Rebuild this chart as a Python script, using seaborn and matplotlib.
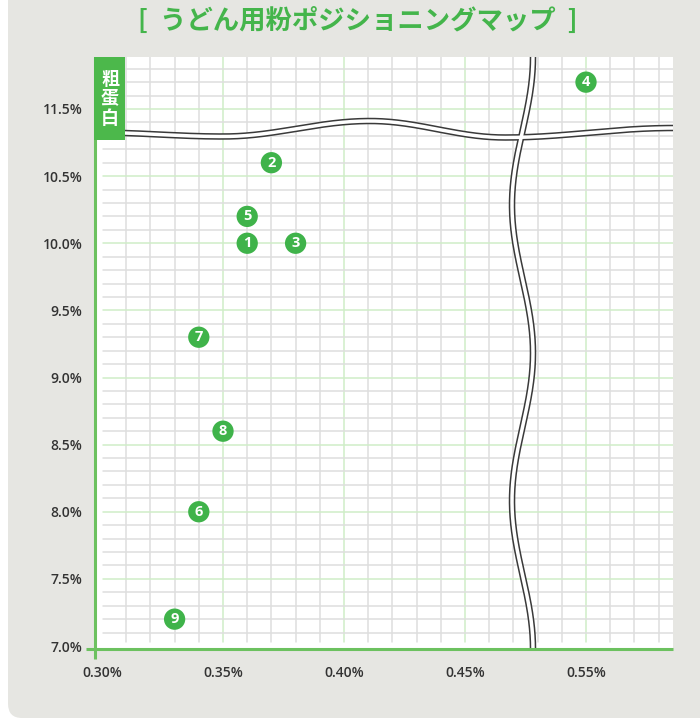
import numpy as np
import pandas as pd
import matplotlib
matplotlib.use("Agg")
import matplotlib.pyplot as plt
import seaborn as sns
from matplotlib.patches import FancyBboxPatch, Rectangle

# ---------------- data ----------------
labels = ["1", "2", "3", "4", "5", "6", "7", "8", "9"]
ash = [0.36, 0.37, 0.38, 0.55, 0.36, 0.34, 0.34, 0.35, 0.33]          # x, %
protein = [10.0, 10.6, 10.0, 11.7, 10.2, 8.0, 9.3, 8.6, 7.2]          # y, %
x_tick_values = [0.30, 0.35, 0.40, 0.45, 0.55]
x_tick_labels = ["0.30%", "0.35%", "0.40%", "0.45%", "0.55%"]
y_tick_values = [7.0, 7.5, 8.0, 8.5, 9.0, 9.5, 10.0, 10.5, 11.5]
y_tick_labels = ["7.0%", "7.5%", "8.0%", "8.5%", "9.0%", "9.5%", "10.0%", "10.5%", "11.5%"]
title = "[  うどん用粉ポジショニングマップ  ]"
y_axis_title = "粗\n蛋\n白"

# axis breaks: (break position, skipped amount)
X_BREAK, X_SKIP = 0.475, 0.05
Y_BREAK, Y_SKIP = 10.82, 0.5


def x_disp(v):
    v = np.asarray(v, dtype=float)
    return np.where(v < X_BREAK, v, v - X_SKIP)


def y_disp(v):
    v = np.asarray(v, dtype=float)
    return np.where(v < Y_BREAK, v, v - Y_SKIP)


df = pd.DataFrame({"label": labels, "ash": ash, "protein": protein})
df["xd"] = x_disp(df["ash"])
df["yd"] = y_disp(df["protein"])

# ---------------- style ----------------
sns.set_theme(style="white")
plt.rcParams["font.family"] = ["Noto Sans CJK JP", "DejaVu Sans"]

GREEN = "#3fb34a"
AXIS_GREEN = "#6cc15f"
GRID_GREY = "#dedede"
GRID_GREEN = "#cfeec8"
PANEL = "#e6e6e2"
TICK_COLOR = "#333333"

W, H = 700, 720
fig = plt.figure(figsize=(W / 100, H / 100), dpi=100, facecolor="white")

# grey rounded panel
panel = FancyBboxPatch((8 / W, 2 / H), 1.2, 1.2, boxstyle="round,pad=0,rounding_size=0.02",
                       transform=fig.transFigure, facecolor=PANEL, edgecolor="none", zorder=-10)
fig.patches.append(panel)

L, R, T, B = 95, 673, 57, 649
ax = fig.add_axes([L / W, (H - B) / H, (R - L) / W, (B - T) / H])
ax.set_zorder(1)
ax.set_facecolor("white")

xlim = (0.30 - 7 / 2420, 0.30 + (R - 102) / 2420)
ylim = (7.0 - 3 / 134.25, 11.0 + (109 - T) / 134.25)
ax.set_xlim(*xlim)
ax.set_ylim(*ylim)

# grid
for v in np.arange(0.31, xlim[1], 0.01):
    major = abs(round(v * 100) % 5) == 0
    ax.axvline(v, ymin=7 / (B - T), color=GRID_GREEN if major else GRID_GREY,
               lw=1.1, zorder=1)
for v in np.arange(7.1, ylim[1], 0.1):
    major = abs(round(v * 10) % 5) == 0
    ax.axhline(v, xmin=8 / (R - L), color=GRID_GREEN if major else GRID_GREY,
               lw=1.1, zorder=1)


# break lines (decorative)
def eased(points, n=400):
    pts = np.array(points, dtype=float)
    out_a, out_b = [], []
    for (a0, b0), (a1, b1) in zip(pts[:-1], pts[1:]):
        t = np.linspace(0, 1, n)
        out_a.append(a0 + (a1 - a0) * t)
        out_b.append(b0 + (b1 - b0) * (1 - np.cos(np.pi * t)) / 2)
    return np.concatenate(out_a), np.concatenate(out_b)


def px_to_axes(px, py):
    return (np.asarray(px) - L) / (R - L), (B - np.asarray(py)) / (B - T)


hx, hy = eased([(95, 132.5), (223, 136.5), (370, 121), (505, 137.5), (673, 128)])
vy, vx = eased([(57, 533), (205, 512), (353, 533), (501, 512), (649, 533)])
for (px, py) in [(hx, hy), (vx, vy)]:
    axx, axy = px_to_axes(px, py)
    ax.plot(axx, axy, transform=ax.transAxes, color="#3a3a3a", lw=4.7,
            solid_capstyle="butt", zorder=2.5, clip_on=False)
    ax.plot(axx, axy, transform=ax.transAxes, color="white", lw=2.5,
            solid_capstyle="butt", zorder=2.6, clip_on=False)

# points
sns.scatterplot(data=df, x="xd", y="yd", ax=ax, s=235, color=GREEN,
                edgecolor="none", linewidth=0, zorder=4, legend=False)
for _, r in df.iterrows():
    ax.text(r["xd"], r["yd"], r["label"], ha="center", va="center",
            color="white", fontsize=10.5, fontweight="bold", zorder=5,
            family=["Open Sans", "DejaVu Sans"])

# axes lines
for s in ax.spines.values():
    s.set_visible(False)
ax.plot([0, 0], [-10 / (B - T), 1], transform=ax.transAxes, color=AXIS_GREEN,
        lw=2.2, clip_on=False, zorder=6, solid_capstyle="butt")
ax.plot([-9 / (R - L), 1], [0, 0], transform=ax.transAxes, color=AXIS_GREEN,
        lw=2.2, clip_on=False, zorder=6, solid_capstyle="butt")

# y axis title box
ax.add_patch(Rectangle((-0.8 / (R - L), (B - 140) / (B - T)), 31 / (R - L), (140 - T) / (B - T),
                       transform=ax.transAxes, facecolor="#4cb84b", edgecolor="none",
                       clip_on=False, zorder=7))
ax.text(15 / (R - L), (B - 99) / (B - T), y_axis_title, transform=ax.transAxes,
        ha="center", va="center", color="white", fontsize=13, fontweight="bold",
        linespacing=1.05, zorder=8)

# ticks
ax.set_xticks(x_disp(x_tick_values))
ax.set_xticklabels(x_tick_labels)
ax.set_yticks(y_disp(y_tick_values))
ax.set_yticklabels(y_tick_labels)
ax.tick_params(axis="both", length=0, colors=TICK_COLOR, labelsize=10)
ax.tick_params(axis="x", pad=12)
ax.tick_params(axis="y", pad=9)
for lab in ax.get_xticklabels() + ax.get_yticklabels():
    lab.set_family(["Open Sans", "DejaVu Sans"])
    lab.set_fontweight("semibold")
ax.set_xlabel("")
ax.set_ylabel("")
ax.grid(False)

fig.text(358 / W, 1 - 21 / H, title, ha="center", va="center", color="#44b54b",
         fontsize=19, fontweight="bold")

fig.savefig("out.png", dpi=100, facecolor=fig.get_facecolor())
